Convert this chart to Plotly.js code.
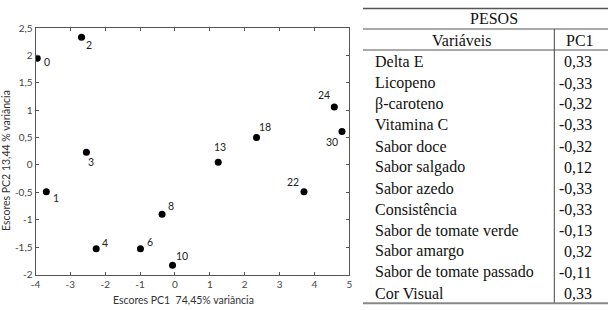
<!DOCTYPE html>
<html>
<head>
<meta charset="utf-8">
<script src="https://cdn.plot.ly/plotly-3.0.1.min.js"></script>
<style>html,body{margin:0;padding:0;background:#fff}#chart{width:615px;height:310px}</style>
</head>
<body>
<div id="chart"></div>
<script>
// ---- data ----
const sampleIds = ['0','1','2','3','4','6','8','10','13','18','22','24','30'];
const pc1Scores = [-3.95,-3.69,-2.68,-2.54,-2.26,-0.99,-0.37,-0.07,1.24,2.34,3.70,4.57,4.79];
const pc2Scores = [1.95,-0.49,2.33,0.23,-1.53,-1.53,-0.90,-1.83,0.05,0.50,-0.49,1.06,0.61];
const xTickVals = [-4,-3,-2,-1,0,1,2,3,4,5];
const xTickLabels = ['-4','-3','-2','-1','0','1','2','3','4','5'];
const yTickVals = [-2,-1.5,-1,-0.5,0,0.5,1,1.5,2,2.5];
const yTickLabels = ['-2','-1,5','-1','-0,5','0','0,5','1','1,5','2','2,5'];
const xTitle = 'Escores PC1\u00a0\u00a074,45% variância';
const yTitle = 'Escores PC2 13,44 % variância';
const tableTitle = 'PESOS';
const colHeaders = ['Variáveis','PC1'];
const variables = ['Delta E','Licopeno','β-caroteno','Vitamina C','Sabor doce','Sabor salgado','Sabor azedo','Consistência','Sabor de tomate verde','Sabor amargo','Sabor de tomate passado','Cor Visual'];
const pc1Weights = ['0,33','-0,33','-0,32','-0,33','-0,32','0,12','-0,33','-0,33','-0,13','0,32','-0,11','0,33'];

// ---- style (label offsets in px, right / up) ----
const labelShift = {
  '0':[10,-4],'1':[10,-6],'2':[7,-8],'3':[5,-10],'4':[9,6],'6':[10,7],'8':[9,8],
  '10':[9,9],'13':[2,15],'18':[8,11],'22':[-11,10],'24':[-10,12],'30':[-10,-10]
};
const W = 615, H = 310;
const px = x => x / W;
const py = y => 1 - y / H;
const sans = 'Lato, sans-serif';
const serif = 'Liberation Serif, serif';

const trace = {
  type: 'scatter', mode: 'markers',
  x: pc1Scores, y: pc2Scores,
  marker: {color: '#000', size: 7},
  hoverinfo: 'none'
};

const ann = (x, y, text, font, extra) => Object.assign({
  x: px(x), y: py(y), xref: 'paper', yref: 'paper', text: text,
  xanchor: 'center', yanchor: 'middle', showarrow: false, font: font
}, extra || {});

const annotations = [];
sampleIds.forEach((id, i) => {
  const s = labelShift[id] || [8, 0];
  annotations.push({
    x: pc1Scores[i], y: pc2Scores[i], xref: 'x', yref: 'y', text: id,
    xanchor: 'center', yanchor: 'middle',
    showarrow: false, xshift: s[0], yshift: s[1],
    font: {family: sans, size: 10.5, color: '#222'}
  });
});
annotations.push(ann(183, 300, xTitle, {family: sans, size: 10.5, color: '#333'}));
annotations.push(ann(6, 161, yTitle, {family: sans, size: 10.5, color: '#333'}, {textangle: -90}));

// table
const tfont = {family: serif, size: 16, color: '#111'};
annotations.push(ann(494, 19, tableTitle, tfont));
annotations.push(ann(462, 40, colHeaders[0], tfont));
annotations.push(ann(580, 40, colHeaders[1], tfont));
variables.forEach((v, i) => {
  const yc = 62 + 21 * i;
  annotations.push(ann(373, yc, v, tfont, {xanchor: 'left'}));
  annotations.push(ann(594, yc, pc1Weights[i], tfont, {xanchor: 'right'}));
});

const line = (x0, y0, x1, y1, w, c) => ({type: 'line', xref: 'paper', yref: 'paper',
  x0: px(x0), y0: py(y0), x1: px(x1), y1: py(y1), line: {width: w, color: c}});
const shapes = [
  line(363, 8.5, 608, 8.5, 1.3, '#555'),
  line(363, 29, 608, 29, 1, '#555'),
  line(363, 50, 608, 50, 1, '#555'),
  line(554.3, 29, 554.3, 303, 1, '#444'),
  line(363, 303.3, 608, 303.3, 2, '#888')
];

const axisCommon = {
  showline: true, mirror: 'ticks', linecolor: '#555', linewidth: 1,
  ticks: 'inside', ticklen: 3, tickcolor: '#555', tickwidth: 1,
  showgrid: false, zeroline: false, fixedrange: true,
  tickfont: {family: sans, size: 10, color: '#444'}
};

const layout = {
  width: W, height: H,
  margin: {l: 0, r: 0, t: 0, b: 0},
  paper_bgcolor: '#fff', plot_bgcolor: '#fff',
  showlegend: false, separators: ',.',
  xaxis: Object.assign({}, axisCommon, {domain: [px(35.5), px(349.3)], range: [-4, 5],
    tickmode: 'array', tickvals: xTickVals, ticktext: xTickLabels}),
  yaxis: Object.assign({}, axisCommon, {domain: [py(274.5), py(28)], range: [-2, 2.5],
    tickmode: 'array', tickvals: yTickVals, ticktext: yTickLabels}),
  annotations: annotations,
  shapes: shapes
};

Plotly.newPlot('chart', [trace], layout, {staticPlot: true});
</script>
</body>
</html>
